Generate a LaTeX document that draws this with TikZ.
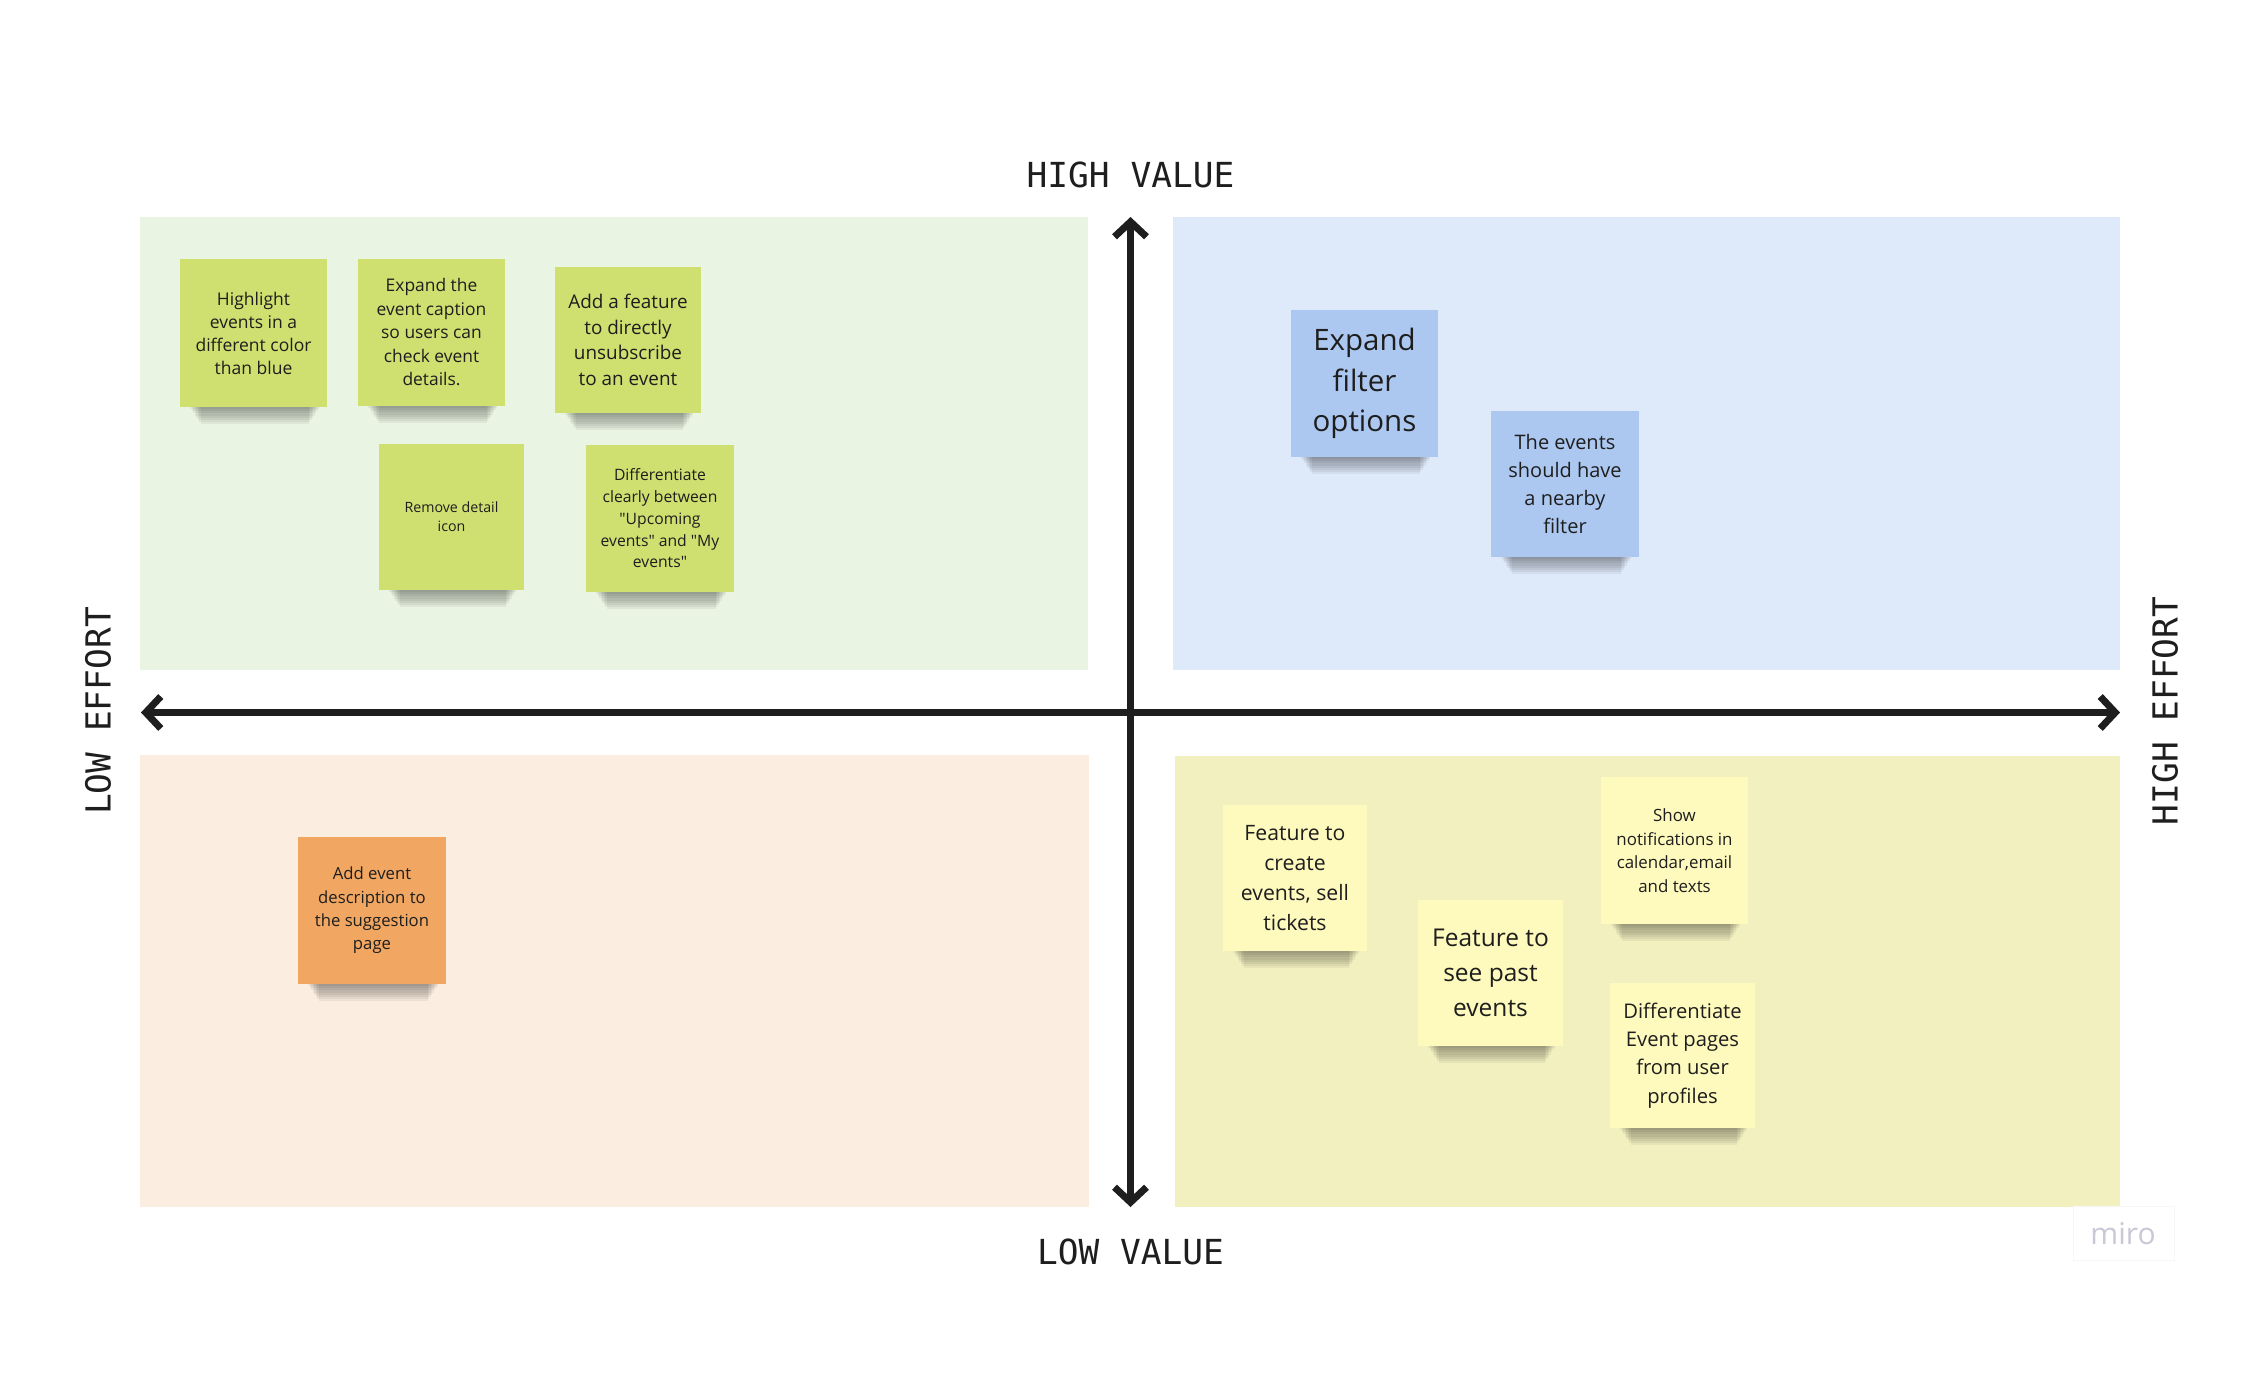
\documentclass[tikz,border=0pt]{standalone}
\usepackage{fontspec}
\usetikzlibrary{arrows.meta}
\setmainfont{Open Sans}
\newfontfamily\nf{Open Sans}
\newfontfamily\axisfont{DejaVu Sans Mono}
\definecolor{qgreen}{RGB}{234,244,226}
\definecolor{qblue}{RGB}{222,233,250}
\definecolor{qpeach}{RGB}{251,237,224}
\definecolor{qyellow}{RGB}{243,240,192}
\definecolor{sgreen}{RGB}{208,224,112}
\definecolor{sblue}{RGB}{172,200,240}
\definecolor{sorange}{RGB}{241,167,98}
\definecolor{syellow}{RGB}{254,249,188}
\definecolor{ink}{RGB}{30,30,30}
\definecolor{mirogray}{RGB}{200,200,214}
\newcommand\sticky[8]{%
  \foreach \k in {0,...,7}{\fill[black,opacity=0.05] ({#2+10+1.5*\k},{#5-3}) rectangle ({#4-8-1.5*\k},{#5+2+2.2*\k});}
  \node[note, fill=#6, font={#7}, minimum width={(#4-#2)*1pt}, minimum height={(#5-#3)*1pt}] (#1) at ({(#2+#4)/2},{(#3+#5)/2}) {#8};
}
\tikzset{
  note/.style={inner sep=0pt, align=center, text=ink},
  axislabel/.style={font=\axisfont\fontsize{34.5}{40}\selectfont, text=ink, inner sep=0pt},
  axisline/.style={draw=ink, line width=7pt, {Straight Barb[length=15pt,width=32pt]}-{Straight Barb[length=15pt,width=32pt]}}
}
\begin{document}
\begin{tikzpicture}[x=1pt,y=-1pt]
\useasboundingbox[fill=white] (0,0) rectangle (2260,1382);
% quadrants
\fill[qgreen] (140,217) rectangle (1088,670);
\fill[qblue] (1173,217) rectangle (2120,670);
\fill[qpeach] (140,755) rectangle (1089,1207);
\fill[qyellow] (1175,756) rectangle (2120,1207);
% axes
\coordinate (top) at (1130.5,217);
\coordinate (bottom) at (1130.5,1207);
\coordinate (left) at (141,712.5);
\coordinate (right) at (2120,712.5);
\draw[axisline] (left) -- (right);
\draw[axisline] (bottom) -- (top);
% labels
\node[axislabel] (hv) at (1130.5,175) {HIGH VALUE};
\node[axislabel] (lv) at (1130.5,1252) {LOW VALUE};
\node[axislabel, rotate=90] (le) at (98,711) {LOW EFFORT};
\node[axislabel, rotate=90] (he) at (2165,711) {HIGH EFFORT};
% sticky notes
\sticky{g1}{180}{259}{327}{407}{sgreen}{\nf\fontsize{17.5}{23}\selectfont}{Highlight\\events in a\\different color\\than blue}
\sticky{g2}{358}{259}{505}{406}{sgreen}{\nf\fontsize{17.4}{23.5}\selectfont}{Expand the\\event caption\\so users can\\check event\\details.}
\sticky{g3}{555}{267}{701}{413}{sgreen}{\nf\fontsize{18.9}{25.6}\selectfont}{Add a feature\\to directly\\unsubscribe\\to an event}
\sticky{g4}{379}{444}{524}{590}{sgreen}{\nf\fontsize{14.2}{19}\selectfont}{Remove detail\\icon}
\sticky{g5}{586}{445}{734}{592}{sgreen}{\nf\fontsize{15.7}{21.75}\selectfont}{Differentiate\\clearly between\\"Upcoming\\events" and "My\\events"}
\sticky{b1}{1291}{310}{1438}{457}{sblue}{\nf\fontsize{29.5}{40.5}\selectfont}{Expand\\filter\\options}
\sticky{b2}{1491}{411}{1639}{557}{sblue}{\nf\fontsize{20}{27.8}\selectfont}{The events\\should have\\a nearby\\filter}
\sticky{o1}{298}{837}{446}{984}{sorange}{\nf\fontsize{16.7}{23.3}\selectfont}{Add event\\description to\\the suggestion\\page}
\sticky{y1}{1223}{805}{1367}{951}{syellow}{\nf\fontsize{21.2}{30}\selectfont}{Feature to\\create\\events, sell\\tickets}
\sticky{y2}{1418}{900}{1563}{1046}{syellow}{\nf\fontsize{24.5}{35}\selectfont}{Feature to\\see past\\events}
\sticky{y3}{1601}{777}{1748}{924}{syellow}{\nf\fontsize{16.9}{23.6}\selectfont}{Show\\notifications in\\calendar,email\\and texts}
\sticky{y4}{1610}{983}{1755}{1128}{syellow}{\nf\fontsize{20.2}{28.3}\selectfont}{Differentiate\\Event pages\\from user\\profiles}
% miro logo
\draw[black!3] (2073,1206) rectangle (2174,1260);
\node[inner sep=0pt, text=mirogray, font=\nf\fontsize{30}{34}\selectfont] (miro) at (2123,1234) {miro};
\end{tikzpicture}
\end{document}
